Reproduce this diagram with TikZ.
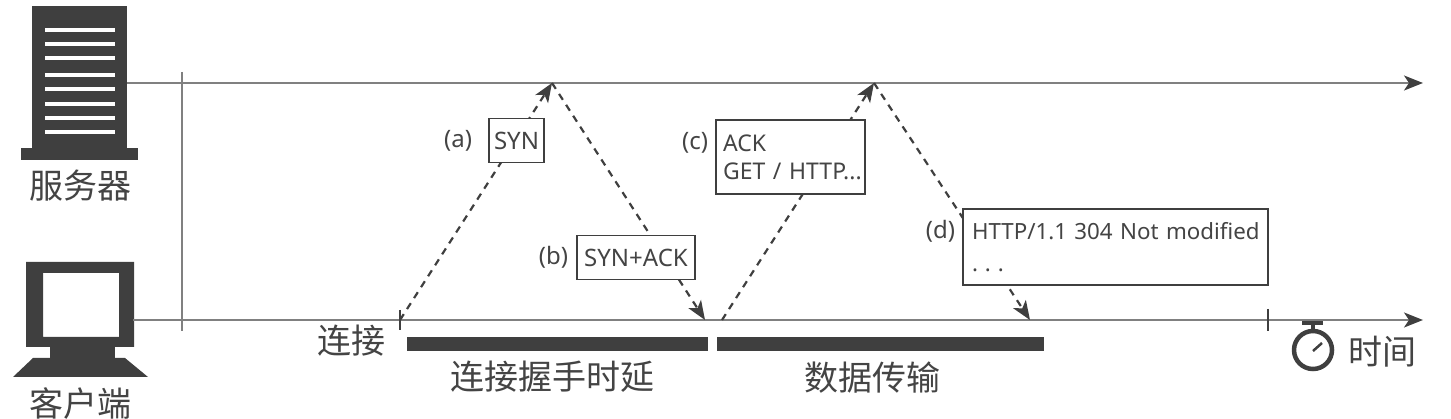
\documentclass[tikz,border=0pt]{standalone}
\usepackage{fontspec}
\setmainfont{Noto Sans}
\newfontfamily\cjk{Noto Sans CJK SC}
\usepackage{xcolor}
\usetikzlibrary{arrows.meta,positioning}
\definecolor{inkdark}{HTML}{3F3F3F}
\definecolor{inkline}{HTML}{808080}
\definecolor{inktext}{HTML}{444444}

\begin{document}
\begin{tikzpicture}[
            x=1pt, y=-1pt,
            >={Stealth[length=19pt,width=15pt,inset=5pt,color=inkdark]},
            timeline/.style={->, inkline, line width=1.8pt},
            packet/.style={->, inkdark, line width=2.2pt, dash pattern=on 7pt off 6pt},
            msgbox/.style={draw=inkdark, line width=1.4pt, fill=white, text=inktext, inner sep=0pt, font=\fontsize{24}{29}\selectfont},
            tag/.style={text=inktext, inner sep=0pt, font=\fontsize{24}{28}\selectfont},
            cnlabel/.style={text=inktext, inner sep=0pt, font=\cjk\fontsize{34}{38}\selectfont},
            bar/.style={fill=inkdark, inner sep=0pt, minimum height=14pt, anchor=west},
            tick/.style={inkdark, line width=1.5pt}
          ]
          \useasboundingbox (0,0) rectangle (1451,419);

          % Server icon
          \fill[inkdark] (32,6) rectangle (127,148);
          \fill[inkdark] (21,148) rectangle (138,160);
          \foreach \y in {30,44,58,75,89,104,118,132}
            \fill[white] (45,\y-2) rectangle (115,\y+2);

          % Client icon
          \fill[inkdark, even odd rule] (26,262) rectangle (134,347) (43,273) rectangle (119,337);
          \fill[inkdark] (50,347) rectangle (115,358);
          \fill[inkdark] (33,358) -- (125,358) -- (148,377) -- (13,377) -- cycle;

          % Stopwatch
          \draw[inkdark, line width=4.5pt] (1313,350) circle (19);
          \draw[inkdark, line width=5pt] (1302,323) -- (1323,323);
          \draw[inkdark, line width=4pt] (1313,323) -- (1313,331);
          \draw[inkdark, line width=2.5pt] (1313,351) -- (1322,343);

          % Points
          \coordinate (srvstart) at (127,83);
          \coordinate (srvend) at (1423,83);
          \coordinate (clistart) at (133,320);
          \coordinate (cliend) at (1423,320);
          \coordinate (axistop) at (182,72);
          \coordinate (axisbot) at (182,331);
          \coordinate (open) at (400,320);
          \coordinate (close) at (1268,320);
          \coordinate (peak1) at (552,83);
          \coordinate (land1) at (705,320);
          \coordinate (leave2) at (722,320);
          \coordinate (peak2) at (874,83);
          \coordinate (land2) at (1030,320);

          % Timelines
          \draw[timeline] (srvstart) -- (srvend);
          \draw[timeline] (clistart) -- (cliend);
          \draw[inkline, line width=1.5pt] (axistop) -- (axisbot);
          \draw[tick] (open) ++(0,-10) -- ++(0,20);
          \draw[tick] (close) ++(0,-11) -- ++(0,22);

          % Edges
          \draw[packet] (open) -- (peak1);
          \draw[packet] (peak1) -- (land1);
          \draw[packet] (leave2) -- (peak2);
          \draw[packet] (peak2) -- (land2);

          % Nodes
          \node[msgbox, minimum width=55pt, minimum height=44pt] (syn) at (516.5,140.5) {SYN};
          \node[msgbox, minimum width=118pt, minimum height=44pt] (synack) at (636,257.5) {SYN+ACK};
          \node[msgbox, minimum width=149pt, minimum height=74pt, align=left, text width=135pt, inner xsep=7pt, font=\fontsize{23}{28}\selectfont] (ackget) at (790.5,157) {ACK\\\mbox{GET / HTTP...}};
          \node[msgbox, minimum width=305pt, minimum height=76pt, align=left, text width=287pt, inner xsep=9pt, font=\fontsize{22.3}{32}\selectfont] (reply) at (1115.5,247) {\mbox{HTTP/1.1 304 Not modified}\\.\hspace{7pt}.\hspace{7pt}.};
          \node[tag, left=16pt of syn] (taga) {(a)};
          \node[tag, left=8pt of synack] (tagb) {(b)};
          \node[tag, left=7pt of ackget, yshift=14pt] (tagc) {(c)};
          \node[tag, left=7pt of reply, yshift=16pt] (tagd) {(d)};

          % Bars
          \node[bar, minimum width=301pt] (handshake) at (407,344) {};
          \node[bar, minimum width=327pt, right=8pt of handshake] (transfer) {};

          % Labels
          \node[cnlabel] (server) at (80,186) {服务器};
          \node[cnlabel] (client) at (80,404) {客户端};
          \node[cnlabel] (connect) at (351,341) {连接};
          \node[cnlabel, below=10pt of handshake, xshift=-5pt] (delay) {连接握手时延};
          \node[cnlabel, below=10pt of transfer, xshift=-8pt] (data) {数据传输};
          \node[cnlabel] (time) at (1382,352) {时间};
        \end{tikzpicture}
\end{document}
